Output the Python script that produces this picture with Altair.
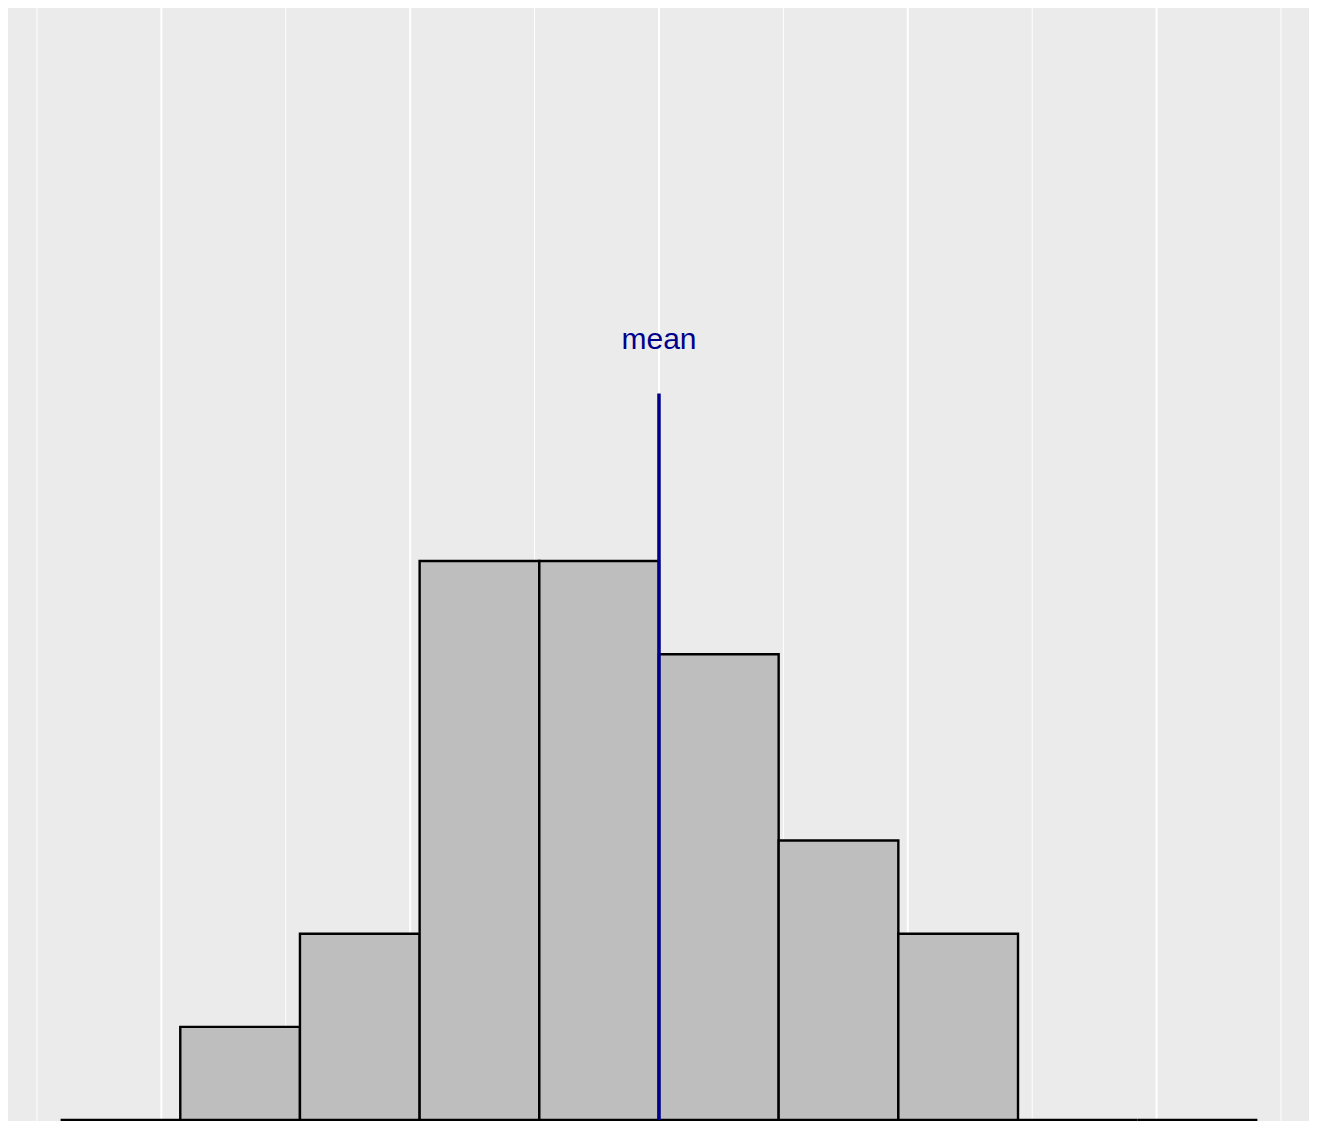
import altair as alt
import pandas as pd

# Histogram bins (data units), counts
bin_width = 0.962
bin_starts = [-4.81, -3.848, -2.886, -1.924, -0.962, 0.0, 0.962, 1.924, 2.886, 3.848]
counts = [0, 1, 2, 6, 6, 5, 3, 2, 0, 0]

mean_value = 0.0
mean_line_top = 7.8
mean_label_y = 8.37
mean_label = "mean"

major_breaks = [-4, -2, 0, 2, 4]
minor_breaks = [-5, -3, -1, 1, 3, 5]

x_domain = [-5.281, 5.225]
y_domain = [-0.0107, 11.98]

bars = pd.DataFrame({
    "start": bin_starts,
    "end": [s + bin_width for s in bin_starts],
    "count": counts,
})
bars["zero"] = 0

xs = alt.Scale(domain=x_domain, nice=False, zero=False)
ys = alt.Scale(domain=y_domain, nice=False, zero=False)

major = alt.Chart(pd.DataFrame({"v": major_breaks})).mark_rule(
    color="white", strokeWidth=2
).encode(x=alt.X("v:Q", scale=xs, axis=None))

minor = alt.Chart(pd.DataFrame({"v": minor_breaks})).mark_rule(
    color="white", strokeWidth=1
).encode(x=alt.X("v:Q", scale=xs, axis=None))

hist = alt.Chart(bars).mark_rect(
    fill="#BEBEBE", stroke="black", strokeWidth=2.4
).encode(
    x=alt.X("start:Q", scale=xs, axis=None),
    x2="end:Q",
    y=alt.Y("zero:Q", scale=ys, axis=None),
    y2="count:Q",
)

mean_df = pd.DataFrame({"m": [mean_value], "top": [mean_line_top], "zero": [0],
                        "ly": [mean_label_y], "label": [mean_label]})

mean_rule = alt.Chart(mean_df).mark_rule(color="#00008B", strokeWidth=3.5).encode(
    x=alt.X("m:Q", scale=xs, axis=None),
    y=alt.Y("zero:Q", scale=ys, axis=None),
    y2="top:Q",
)

mean_text = alt.Chart(mean_df).mark_text(
    color="#00008B", font="Liberation Sans", fontSize=30, baseline="middle", align="center"
).encode(
    x=alt.X("m:Q", scale=xs, axis=None),
    y=alt.Y("ly:Q", scale=ys, axis=None),
    text="label:N",
)

chart = alt.layer(minor, major, hist, mean_rule, mean_text).properties(
    width=1307, height=1117,
    padding={"left": -6, "top": -4, "right": 0, "bottom": 0},
    autosize=alt.AutoSizeParams(type="none"),
).configure_view(fill="#EBEBEB", stroke=None)

chart.save("out.html", embed_options={"renderer": "svg", "actions": False})
